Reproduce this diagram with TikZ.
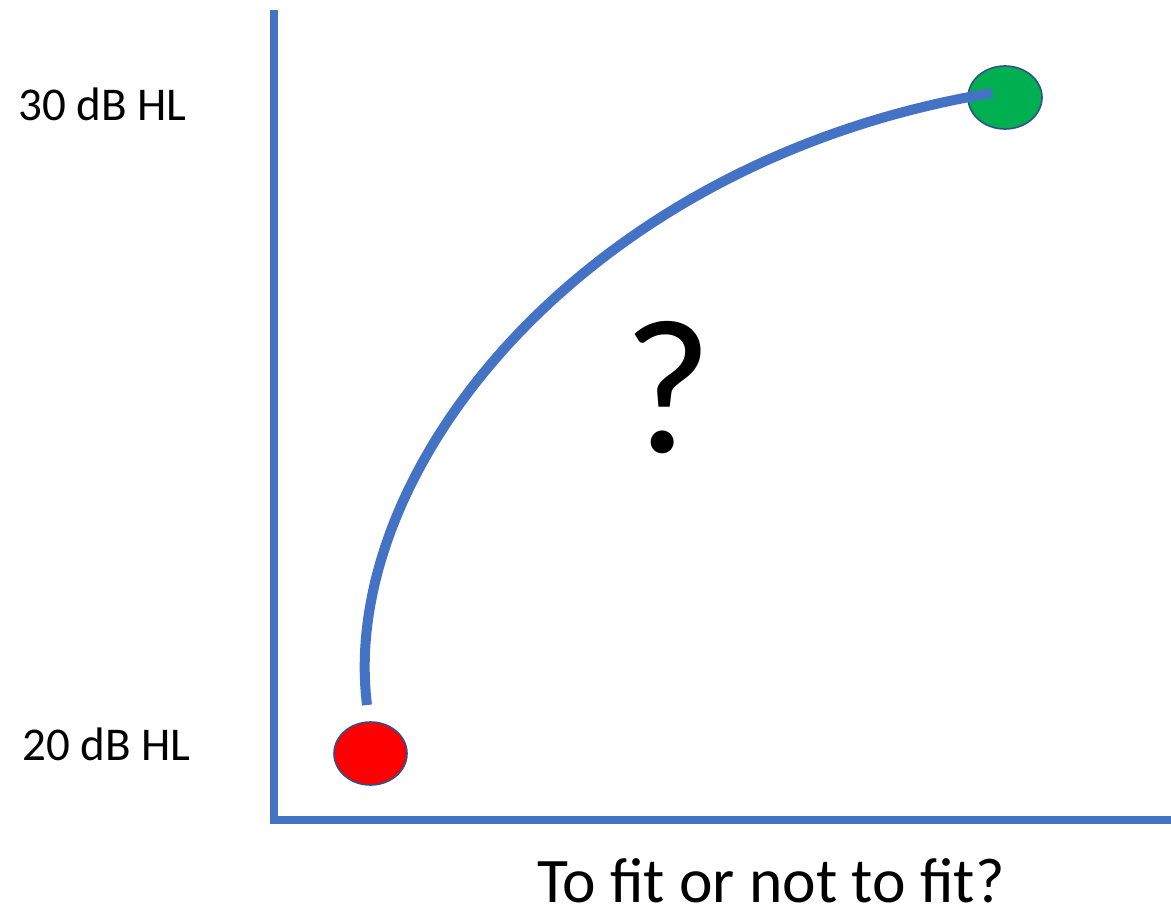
\documentclass[tikz,border=0pt]{standalone}
\usepackage{fontspec}
\setmainfont{Carlito}
\usetikzlibrary{shapes.geometric}
\definecolor{axisblue}{HTML}{4472C4}
\definecolor{rimblue}{HTML}{2F528F}
\definecolor{dotred}{HTML}{FF0000}
\definecolor{dotgreen}{HTML}{00B050}
\tikzset{
  axisline/.style={draw=axisblue, line width=7.5pt},
  curveline/.style={draw=axisblue, line width=10pt},
  dot/.style={ellipse, draw=rimblue, line width=1.6pt, minimum width=73pt, minimum height=63pt, inner sep=0pt},
  label/.style={inner sep=0pt, anchor=base west, text=black, text depth=0pt}
}
\begin{document}
\begin{tikzpicture}[x=1pt, y=-1pt]
\useasboundingbox (0,0) rectangle (1171,911);
\fill[white] (0,0) rectangle (1171,911);
\coordinate (top) at (274,10);
\coordinate (corner) at (274,823.75);
\coordinate (cornerh) at (270,820);
\coordinate (right) at (1171,820);
\draw[axisline] (top) -- (corner);
\draw[axisline] (cornerh) -- (right);
\node[dot, fill=dotred] (red) at (370.5,753.5) {};
\node[dot, fill=dotgreen, minimum width=74pt] (green) at (1005,97.5) {};
\coordinate (cs) at (367,705);
\coordinate (ce) at (992,93);
\draw[curveline] (cs) .. controls (338,470) and (585,160) .. (ce);
\node[label, font=\fontsize{47}{56}\selectfont] (l30) at (18,120) {30 dB HL};
\node[label, font=\fontsize{47}{56}\selectfont] (l20) at (22,760) {20 dB HL};
\node[inner sep=0pt, anchor=base, text depth=0pt, font=\fontsize{192}{230}\selectfont] (q) at (668,452) {?};
\node[label, font=\fontsize{63.5}{76}\selectfont] (xl) at (537,902) {To fit or not to fit?};
\end{tikzpicture}
\end{document}
